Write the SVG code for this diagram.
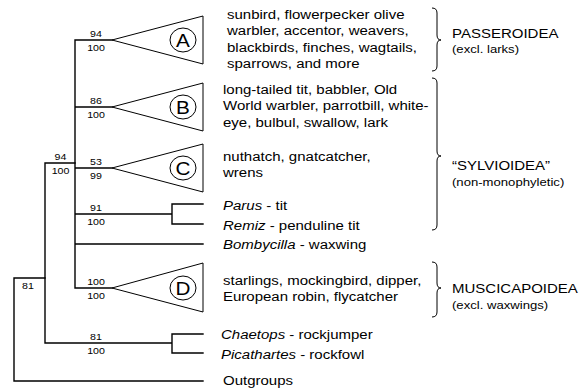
<svg xmlns="http://www.w3.org/2000/svg" width="585" height="389" viewBox="0 0 585 389">
<style>
text{font-family:"Liberation Sans",Arial,sans-serif;fill:#000}
.t{font-size:12px}
.i{font-style:italic}
.s{font-size:8.5px;text-anchor:middle}
.g{font-size:12px}
.p{font-size:10.5px}
.L{font-size:18px;text-anchor:middle}
.br{fill:none;stroke:#000;stroke-width:1.4;stroke-linecap:square}
.tri{fill:#fff;stroke:#000;stroke-width:1}
.brace{fill:none;stroke:#000;stroke-width:1}
</style>
<rect width="585" height="389" fill="#fff"/>
<g id="connectors">
<path class="br" d="M14,278H45M14,278V381H203"/>
<path class="br" d="M45,163V343M45,163H75M45,343H172M172,334V353M172,334H203M172,353H203"/>
<path class="br" d="M75,40V288M75,40H112M75,107H112M75,168H112M75,214H172M172,204V224M172,204H203M172,224H203M75,244H203M75,288H112"/>
</g>
<g id="support">
<text class="s" transform="translate(28,289) scale(1.25,1)">81</text>
<text class="s" transform="translate(60.5,160) scale(1.25,1)">94</text>
<text class="s" transform="translate(60.5,174) scale(1.25,1)">100</text>
<text class="s" transform="translate(96,37) scale(1.25,1)">94</text>
<text class="s" transform="translate(96,51) scale(1.25,1)">100</text>
<text class="s" transform="translate(96,104) scale(1.25,1)">86</text>
<text class="s" transform="translate(96,118) scale(1.25,1)">100</text>
<text class="s" transform="translate(96,165) scale(1.25,1)">53</text>
<text class="s" transform="translate(96,179) scale(1.25,1)">99</text>
<text class="s" transform="translate(96,211) scale(1.25,1)">91</text>
<text class="s" transform="translate(96,225) scale(1.25,1)">100</text>
<text class="s" transform="translate(96,285) scale(1.25,1)">100</text>
<text class="s" transform="translate(96,299) scale(1.25,1)">100</text>
<text class="s" transform="translate(96,340) scale(1.25,1)">81</text>
<text class="s" transform="translate(96,354) scale(1.25,1)">100</text>
</g>
<g id="cladeA">
<path class="tri" d="M112,40L203,16V64Z"/>
<ellipse class="tri" cx="183" cy="40" rx="13" ry="12"/>
<text class="L" transform="translate(183,46.5) scale(1.15,1)">A</text>
<text class="t" transform="translate(227,19) scale(1.25,1)"><tspan x="0">sunbird, flowerpecker olive</tspan><tspan x="0" dy="16.5">warbler, accentor, weavers,</tspan><tspan x="0" dy="16.5">blackbirds, finches, wagtails,</tspan><tspan x="0" dy="16.5">sparrows, and more</tspan></text>
</g>
<g id="cladeB">
<path class="tri" d="M112,107L203,83V131Z"/>
<ellipse class="tri" cx="183" cy="107" rx="13" ry="12"/>
<text class="L" transform="translate(183,113.5) scale(1.15,1)">B</text>
<text class="t" transform="translate(223,94) scale(1.25,1)"><tspan x="0">long-tailed tit, babbler, Old</tspan><tspan x="0" dy="16.5">World warbler, parrotbill, white-</tspan><tspan x="0" dy="16.5">eye, bulbul, swallow, lark</tspan></text>
</g>
<g id="cladeC">
<path class="tri" d="M112,168L203,144V192Z"/>
<ellipse class="tri" cx="183" cy="168" rx="13" ry="12"/>
<text class="L" transform="translate(183,174.5) scale(1.15,1)">C</text>
<text class="t" transform="translate(223,161) scale(1.25,1)"><tspan x="0">nuthatch, gnatcatcher,</tspan><tspan x="0" dy="16.5">wrens</tspan></text>
</g>
<g id="parus">
<text class="t" transform="translate(223,210) scale(1.25,1)"><tspan class="i">Parus</tspan> - tit</text>
</g>
<g id="remiz">
<text class="t" transform="translate(223,230) scale(1.25,1)"><tspan class="i">Remiz</tspan> - penduline tit</text>
</g>
<g id="bombycilla">
<text class="t" transform="translate(223,249) scale(1.25,1)"><tspan class="i">Bombycilla</tspan> - waxwing</text>
</g>
<g id="cladeD">
<path class="tri" d="M112,288L203,263V312Z"/>
<ellipse class="tri" cx="183" cy="288" rx="13" ry="12"/>
<text class="L" transform="translate(183,294.5) scale(1.15,1)">D</text>
<text class="t" transform="translate(223,285) scale(1.25,1)"><tspan x="0">starlings, mockingbird, dipper,</tspan><tspan x="0" dy="16.5">European robin, flycatcher</tspan></text>
</g>
<g id="chaetops">
<text class="t" transform="translate(221,339) scale(1.25,1)"><tspan class="i">Chaetops</tspan> - rockjumper</text>
</g>
<g id="picathartes">
<text class="t" transform="translate(221,358.5) scale(1.25,1)"><tspan class="i">Picathartes</tspan> - rockfowl</text>
</g>
<g id="outgroups">
<text class="t" transform="translate(223,385) scale(1.25,1)">Outgroups</text>
</g>
<g id="passeroidea">
<path class="brace" d="M432,8Q437,8 437,13V35Q437,40 441,40Q437,40 437,45V66Q437,71 432,71"/>
<text class="g" transform="translate(452,38) scale(1.25,1)">PASSEROIDEA</text>
<text class="p" transform="translate(452,53) scale(1.25,1)">(excl. larks)</text>
</g>
<g id="sylvioidea">
<path class="brace" d="M432,78Q437,78 437,83V151Q437,156 441,156Q437,156 437,161V225Q437,230 432,230"/>
<text class="g" transform="translate(452,170) scale(1.25,1)">“SYLVIOIDEA”</text>
<text class="p" transform="translate(452,186) scale(1.25,1)">(non-monophyletic)</text>
</g>
<g id="muscicapoidea">
<path class="brace" d="M432,262Q437,262 437,267V283Q437,288 441,288Q437,288 437,293V312Q437,317 432,317"/>
<text class="g" transform="translate(452,293) scale(1.25,1)">MUSCICAPOIDEA</text>
<text class="p" transform="translate(452,309) scale(1.25,1)">(excl. waxwings)</text>
</g>
</svg>
